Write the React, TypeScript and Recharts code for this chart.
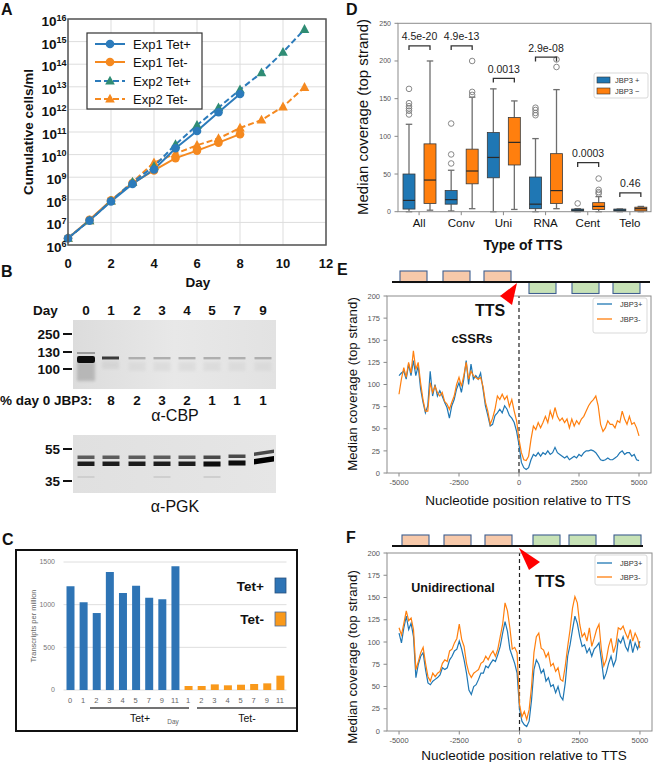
import React from 'react';
import { LineChart, Line, XAxis, YAxis, CartesianGrid, BarChart, Bar, Cell, ReferenceLine } from 'recharts';

const FONT = '"Liberation Sans", Arial, Helvetica, sans-serif';

/* ---------------- Panel A : growth curves ---------------- */
const growthDays = [0, 1, 2, 3, 4, 5, 6, 7, 8, 9, 10, 11];
const exp1TetPlus = [2e6, 1.2e7, 8.5e7, 5e8, 2.2e9, 1.9e10, 1.1e11, 7.5e11, 4.8e12];
const exp1TetMinus = [2e6, 1.3e7, 9.5e7, 5.5e8, 2e9, 7e9, 1.5e10, 3.4e10, 8e10];
const exp2TetPlus = [2e6, 1.2e7, 9e7, 6e8, 3e9, 2.8e10, 2e11, 1.2e12, 7.5e12, 4.2e13, 3.4e14, 3.5e15];
const exp2TetMinus = [2e6, 1.2e7, 9e7, 6e8, 4.4e9, 1.1e10, 2.6e10, 5.2e10, 1.5e11, 3.4e11, 1.3e12, 9.5e12];
const growthSeries = ['Exp1 Tet+', 'Exp1 Tet-', 'Exp2 Tet+', 'Exp2 Tet-'];
const logTicks = [1e6, 1e7, 1e8, 1e9, 1e10, 1e11, 1e12, 1e13, 1e14, 1e15, 1e16];
const dayTicks = [0, 2, 4, 6, 8, 10, 12];

/* ---------------- Panel B : blot labels ---------------- */
const blotLanes = ['0', '1', '2', '3', '4', '5', '7', '9'];
const jbp3Percent = ['8', '2', '3', '2', '1', '1', '1'];
const cbpMarkers = ['250', '130', '100'];
const pgkMarkers = ['55', '35'];

/* ---------------- Panel C : transcripts ---------------- */
const tetPlusDays = ['0', '1', '2', '3', '4', '5', '7', '9', '11'];
const tetPlusTPM = [1215, 1027, 902, 1383, 1137, 1223, 1082, 1063, 1449];
const tetMinusDays = ['1', '2', '3', '4', '5', '7', '9', '11'];
const tetMinusTPM = [47, 47, 66, 55, 62, 70, 78, 168];
const tpmTicks = [0, 500, 1000, 1500];

/* ---------------- Panel D : box plots ---------------- */
const ttsTypes = ['All', 'Conv', 'Uni', 'RNA', 'Cent', 'Telo'];
const boxPlus = [
  { lo: 0, q1: 3.5, med: 15, q3: 50, hi: 116, out: [163, 144, 140, 137, 134, 129] },
  { lo: 1, q1: 10, med: 16, q3: 28, hi: 55, out: [117, 76, 64] },
  { lo: 0, q1: 45, med: 72, q3: 105, hi: 163, out: [] },
  { lo: 0, q1: 4, med: 10, q3: 46, hi: 97, out: [138, 135, 131, 128] },
  { lo: 0, q1: 0.5, med: 2, q3: 3.5, hi: 4, out: [11] },
  { lo: 0, q1: 0.5, med: 2, q3: 3.5, hi: 3.6, out: [] },
];
const boxMinus = [
  { lo: 2, q1: 11, med: 42, q3: 90, hi: 200, out: [] },
  { lo: 4, q1: 37, med: 54, q3: 83, hi: 152, out: [200, 159, 155] },
  { lo: 3, q1: 62, med: 92, q3: 125, hi: 147, out: [] },
  { lo: 4, q1: 11, med: 28, q3: 77, hi: 162, out: [202, 192] },
  { lo: 0, q1: 3, med: 7, q3: 12, hi: 20, out: [44, 29, 26, 24] },
  { lo: 0, q1: 1, med: 4, q3: 6, hi: 7, out: [] },
];
const pLabels = ['4.5e-20', '4.9e-13', '0.0013', '2.9e-08', '0.0003', '0.46'];
const pBracketAt = [220, 220, 177, 205, 65, 25];
const coverageTicks = [0, 50, 100, 150, 200, 250];

/* ---------------- Panels E / F : metaplots ---------------- */
const positionTicks = [-5000, -2500, 0, 2500, 5000];
const metaTicks = [0, 25, 50, 75, 100, 125, 150, 175, 200];
const positions = Array.from({ length: 101 }, (_, i) => -5000 + i * 100);
const cssrPlus = [
  110, 113, 115, 106, 123, 110, 127, 110, 121, 95,
  80, 68, 76, 115, 87, 100, 87, 93, 87, 80,
  74, 62, 76, 83, 95, 102, 91, 106, 127, 100,
  123, 106, 110, 106, 113, 95, 76, 65, 53, 55,
  65, 68, 72, 68, 76, 72, 65, 62, 57, 47,
  32,
  12, 6, 4, 6, 15, 21, 19, 23, 19, 23,
  21, 25, 21, 23, 29, 23, 21, 19, 17, 19,
  15, 17, 19, 17, 21, 19, 23, 25, 25, 26,
  25, 23, 19, 15, 14, 15, 17, 15, 15, 17,
  19, 23, 25, 21, 23, 23, 19, 21, 15, 14,
];
const cssrMinus = [
  89, 106, 119, 108, 125, 113, 138, 117, 125, 102,
  83, 70, 70, 102, 91, 98, 91, 87, 91, 81,
  78, 72, 80, 87, 100, 108, 98, 110, 125, 106,
  115, 110, 108, 106, 108, 98, 80, 70, 55, 62,
  72, 87, 83, 89, 83, 87, 75, 83, 70, 59,
  38,
  23, 15, 14, 19, 38, 53, 49, 57, 51, 57,
  64, 57, 70, 62, 74, 64, 59, 62, 57, 61,
  51, 61, 53, 59, 55, 61, 64, 70, 76, 80,
  83, 87, 76, 55, 47, 51, 59, 55, 55, 51,
  59, 57, 70, 61, 55, 64, 55, 57, 51, 42,
];
const uniPlus = [
  110, 99, 116, 129, 114, 121, 106, 60, 75, 84,
  88, 69, 54, 52, 56, 58, 60, 63, 71, 69,
  71, 80, 84, 90, 92, 101, 92, 80, 65, 46,
  41, 50, 52, 58, 65, 65, 73, 71, 76, 80,
  78, 86, 95, 110, 123, 112, 92, 84, 76, 65,
  25,
  11, 7, 5, 11, 35, 69, 80, 75, 65, 69,
  56, 60, 50, 52, 43, 50, 39, 35, 54, 84,
  97, 114, 129, 121, 106, 95, 97, 88, 93, 84,
  92, 95, 99, 80, 58, 65, 76, 84, 73, 80,
  103, 99, 106, 95, 90, 103, 88, 99, 92, 101,
];
const uniMinus = [
  116, 108, 121, 135, 124, 127, 114, 69, 78, 88,
  94, 76, 61, 56, 65, 61, 65, 67, 76, 80,
  78, 90, 92, 99, 104, 120, 103, 95, 76, 65,
  60, 65, 67, 69, 76, 78, 84, 80, 86, 90,
  84, 92, 106, 120, 144, 135, 116, 92, 94, 88,
  30,
  16, 22, 13, 24, 50, 88, 106, 110, 93, 91,
  83, 88, 73, 76, 67, 71, 58, 56, 73, 95,
  114, 138, 151, 144, 120, 106, 110, 101, 116, 95,
  104, 114, 120, 91, 73, 80, 95, 104, 88, 97,
  116, 114, 118, 110, 104, 114, 101, 110, 104, 93,
];

/* ---------------- colours ---------------- */
const A_BLUE = '#2c7bbb';
const A_ORANGE = '#f5891f';
const A_TEAL = '#2f8c74';
const C_BLUE = '#2e74b5';
const C_ORANGE = '#f9991b';
const M_BLUE = '#1f77b4';
const M_ORANGE = '#ff7f0e';

/* ---------------- rows ---------------- */
const growthRows = growthDays.map((d, i) => ({
  day: d,
  e1p: exp1TetPlus[i],
  e1m: exp1TetMinus[i],
  e2p: exp2TetPlus[i],
  e2m: exp2TetMinus[i],
}));
const tpmRows = [
  ...tetPlusDays.map((d, i) => ({ id: 'p_' + d, tpm: tetPlusTPM[i], grp: 'plus' })),
  ...tetMinusDays.map((d, i) => ({ id: 'm_' + d, tpm: tetMinusTPM[i], grp: 'minus' })),
];
const boxRows = ttsTypes.map((c, i) => ({
  cat: c,
  plus: [boxPlus[i].lo, boxPlus[i].hi],
  minus: [boxMinus[i].lo, boxMinus[i].hi],
}));
const cssrRows = positions.map((p, i) => ({ x: p, plus: cssrPlus[i], minus: cssrMinus[i] }));
const uniRows = positions.map((p, i) => ({ x: p, plus: uniPlus[i], minus: uniMinus[i] }));

/* ---------------- Panel A ---------------- */
const LogTick = (props: any) => {
  const { x, y, payload } = props;
  const e = Math.round(Math.log10(payload.value));
  return (
    <text x={x} y={y + 7} textAnchor="end" fontFamily={FONT} fontWeight="bold" fill="#111" fontSize={13.5}>
      10<tspan dy={-5.5} fontSize={9}>{e}</tspan>
    </text>
  );
};

const circleDot = (color: string) => (p: any) => {
  if (p.cx == null || p.cy == null || p.value == null) return <g key={'c' + p.index} />;
  return <circle key={'c' + p.index} cx={p.cx} cy={p.cy} r={4.3} fill={color} />;
};
const triDot = (color: string) => (p: any) => {
  if (p.cx == null || p.cy == null || p.value == null) return <g key={'t' + p.index} />;
  const { cx, cy } = p;
  return <path key={'t' + p.index} d={`M${cx},${cy - 5.2} L${cx + 4.8},${cy + 3.6} L${cx - 4.8},${cy + 3.6} Z`} fill={color} />;
};

const PanelA = () => (
  <LineChart width={340} height={290} data={growthRows} margin={{ top: 19, right: 14, left: 0, bottom: 0 }}>
    <CartesianGrid stroke="#dddddd" strokeWidth={1} />
    <XAxis dataKey="day" type="number" domain={[0, 12]} ticks={dayTicks} interval={0} height={45} tickSize={0} tickMargin={14}
      axisLine={false} tickLine={false} tick={{ fontSize: 13, fontWeight: 'bold', fill: '#111', fontFamily: FONT }} />
    <YAxis type="number" scale="log" domain={[1e6, 1e16]} ticks={logTicks} interval={0} allowDataOverflow width={68}
      tickSize={0} tickMargin={1.5} axisLine={false} tickLine={false} tick={<LogTick />} />
    <Line dataKey="e2m" type="linear" stroke={A_ORANGE} strokeWidth={2} strokeDasharray="6 3" dot={triDot(A_ORANGE)} activeDot={false} isAnimationActive={false} />
    <Line dataKey="e1m" type="linear" stroke={A_ORANGE} strokeWidth={2} dot={circleDot(A_ORANGE)} activeDot={false} isAnimationActive={false} />
    <Line dataKey="e2p" type="linear" stroke={A_BLUE} strokeWidth={2} strokeDasharray="6 3" dot={triDot(A_TEAL)} activeDot={false} isAnimationActive={false} />
    <Line dataKey="e1p" type="linear" stroke={A_BLUE} strokeWidth={2} dot={circleDot(A_BLUE)} activeDot={false} isAnimationActive={false} />
  </LineChart>
);

/* ---------------- Panel C ---------------- */
const PanelC = () => (
  <BarChart width={281} height={181} data={tpmRows} margin={{ top: 12, right: 10.5, left: 0, bottom: 0 }}>
    <CartesianGrid stroke="#dedede" vertical={false} />
    <XAxis dataKey="id" height={41} tickSize={0} tickMargin={7.7} axisLine={false} tickLine={false} interval={0}
      tickFormatter={(v: string) => v.split('_')[1]} tick={{ fontSize: 7.5, fill: '#666', fontFamily: FONT }} />
    <YAxis type="number" domain={[0, 1500]} ticks={tpmTicks} interval={0} width={47.5} tickSize={0} tickMargin={8.5}
      axisLine={false} tickLine={false} tick={{ fontSize: 7, fill: '#777', fontFamily: FONT }} />
    <Bar dataKey="tpm" barSize={8} isAnimationActive={false}>
      {tpmRows.map((r, i) => (
        <Cell key={i} fill={r.grp === 'plus' ? C_BLUE : C_ORANGE} />
      ))}
    </Bar>
  </BarChart>
);

/* ---------------- Panel D ---------------- */
const BAR_GAP = 9;
const makeBoxShape = (stats: any[], color: string, withBracket: boolean) => (props: any) => {
  const { x, y, width, height, payload } = props;
  if (x == null || !payload) return <g />;
  const idx = ttsTypes.indexOf(payload.cat);
  const s = stats[idx];
  const top = Math.min(y, y + height);
  const h = Math.abs(height);
  const k = h / (s.hi - s.lo);
  const py = (v: number) => top + h - (v - s.lo) * k;
  const cx = x + width / 2;
  const cap = 6.5;
  const wc = '#6e6e6e';
  const boxTop = py(s.q3);
  const boxH = Math.max(py(s.q1) - py(s.q3), 1);
  let bracket = null;
  if (withBracket) {
    const bx1 = cx - (width + BAR_GAP);
    const by = py(pBracketAt[idx]);
    bracket = (
      <g>
        <path d={`M${bx1},${by + 4.2} L${bx1},${by} L${cx},${by} L${cx},${by + 4.2}`} fill="none" stroke="#333" strokeWidth={1.3} />
        <text x={(bx1 + cx) / 2} y={by - 5.5} textAnchor="middle" fontSize={10.5} fill="#222" fontFamily={FONT}>{pLabels[idx]}</text>
      </g>
    );
  }
  return (
    <g>
      <line x1={cx} x2={cx} y1={py(s.hi)} y2={boxTop} stroke={wc} strokeWidth={1.3} />
      <line x1={cx} x2={cx} y1={boxTop + boxH} y2={py(s.lo)} stroke={wc} strokeWidth={1.3} />
      <line x1={cx - cap / 2} x2={cx + cap / 2} y1={py(s.hi)} y2={py(s.hi)} stroke={wc} strokeWidth={1.3} />
      <line x1={cx - cap / 2} x2={cx + cap / 2} y1={py(s.lo)} y2={py(s.lo)} stroke={wc} strokeWidth={1.3} />
      <rect x={x} y={boxTop} width={width} height={boxH} fill={color} stroke="#3a3a3a" strokeWidth={0.8} />
      <line x1={x} x2={x + width} y1={py(s.med)} y2={py(s.med)} stroke="#2a2a2a" strokeWidth={1.2} />
      {s.out.map((o: number, i: number) => (
        <circle key={i} cx={cx} cy={py(o)} r={2.8} fill="none" stroke="#7a7a7a" strokeWidth={0.9} />
      ))}
      {bracket}
    </g>
  );
};
const plusShape = makeBoxShape(boxPlus, M_BLUE, false);
const minusShape = makeBoxShape(boxMinus, M_ORANGE, true);

const PanelD = () => (
  <BarChart width={324} height={260} data={boxRows} margin={{ top: 23.3, right: 3, left: 0, bottom: 0 }} barGap={BAR_GAP}>
    <XAxis dataKey="cat" height={48.3} tickSize={3.5} tickMargin={4} axisLine={false} tickLine={{ stroke: '#888' }} interval={0}
      tick={{ fontSize: 11.5, fill: '#111', fontFamily: FONT }} />
    <YAxis type="number" domain={[0, 250]} ticks={coverageTicks} interval={0} width={68} tickSize={3.5} tickMargin={3.5}
      axisLine={false} tickLine={{ stroke: '#888' }} tick={{ fontSize: 7, fill: '#555', fontFamily: FONT }} />
    <Bar dataKey="plus" barSize={12} isAnimationActive={false} shape={plusShape} />
    <Bar dataKey="minus" barSize={12} isAnimationActive={false} shape={minusShape} />
  </BarChart>
);

/* ---------------- Panels E / F ---------------- */
const MetaChart = ({ rows, height, xAxisH, right }: any) => (
  <LineChart width={324} height={height} data={rows} margin={{ top: 6, right, left: 0, bottom: 0 }}>
    <XAxis dataKey="x" type="number" domain={[-5500, 5500]} ticks={positionTicks} interval={0} height={xAxisH} tickSize={3.5} tickMargin={3}
      axisLine={false} tickLine={{ stroke: '#888' }} tick={{ fontSize: 7.5, fill: '#555', fontFamily: FONT }} />
    <YAxis type="number" domain={[0, 200]} ticks={metaTicks} interval={0} width={57} tickSize={3.5} tickMargin={3.5}
      axisLine={false} tickLine={{ stroke: '#888' }} tick={{ fontSize: 7.5, fill: '#555', fontFamily: FONT }} />
    <ReferenceLine x={0} stroke="#222" strokeWidth={1.2} strokeDasharray="4 3" />
    <Line dataKey="plus" type="linear" stroke={M_BLUE} strokeWidth={1.2} dot={false} activeDot={false} isAnimationActive={false} />
    <Line dataKey="minus" type="linear" stroke={M_ORANGE} strokeWidth={1.2} dot={false} activeDot={false} isAnimationActive={false} />
  </LineChart>
);

/* ---------------- overlay (titles, blots, diagrams) ---------------- */
const laneX = [86, 111, 137, 162, 187, 212, 237, 263];
const T = (p: any) => <text fontFamily={FONT} dominantBaseline="central" fill="#111" {...p} />;

const GeneDiagram = ({ lineY, top, greenTop, lineX2, orangeX, greenX, h }: any) => (
  <g>
    {orangeX.map((x: number, i: number) => (
      <rect key={'o' + i} x={x} y={top} width={27} height={h} fill="#f7c9aa" stroke="#3f5f90" strokeWidth={1.1} />
    ))}
    {greenX.map((x: number, i: number) => (
      <rect key={'g' + i} x={x} y={greenTop} width={27} height={h} fill="#c7e2b6" stroke="#3f5f90" strokeWidth={1.1} />
    ))}
    <line x1={392} x2={lineX2} y1={lineY} y2={lineY} stroke="#111" strokeWidth={2} />
  </g>
);

const MetaLegend = ({ x, y, w, h, y1, y2 }: any) => (
  <g>
    <rect x={x} y={y} width={w} height={h} rx={2} fill="#fff" stroke="#cfcfcf" strokeWidth={0.8} />
    <line x1={597} x2={612} y1={y1} y2={y1} stroke={M_BLUE} strokeWidth={1.3} />
    <line x1={597} x2={612} y1={y2} y2={y2} stroke={M_ORANGE} strokeWidth={1.3} />
    <T x={620} y={y1} fontSize={7.5} fill="#333">JBP3+</T>
    <T x={620} y={y2} fontSize={7.5} fill="#333">JBP3-</T>
  </g>
);

const Overlay = () => (
  <svg width={654} height={762} style={{ position: 'absolute', left: 0, top: 0, pointerEvents: 'none' }}>
    <defs>
      <linearGradient id="blotTop" x1="0" y1="0" x2="1" y2="0">
        <stop offset="0" stopColor="#dcdcdc" />
        <stop offset="0.5" stopColor="#e8e8e8" />
        <stop offset="1" stopColor="#e2e2e2" />
      </linearGradient>
      <linearGradient id="blotBot" x1="0" y1="0" x2="1" y2="0">
        <stop offset="0" stopColor="#e0e0e0" />
        <stop offset="1" stopColor="#e6e6e6" />
      </linearGradient>
      <filter id="b1" x="-20%" y="-100%" width="140%" height="300%"><feGaussianBlur stdDeviation="0.7" /></filter>
      <filter id="b2" x="-20%" y="-50%" width="140%" height="200%"><feGaussianBlur stdDeviation="1.6" /></filter>
    </defs>

    {/* panel letters */}
    <T x={1} y={9.5} fontSize={16} fontWeight="bold">A</T>
    <T x={1} y={271.5} fontSize={16} fontWeight="bold">B</T>
    <T x={2} y={539.5} fontSize={16} fontWeight="bold">C</T>
    <T x={346} y={9.5} fontSize={16} fontWeight="bold">D</T>
    <T x={337} y={269.5} fontSize={16} fontWeight="bold">E</T>
    <T x={346} y={537.5} fontSize={16} fontWeight="bold">F</T>

    {/* ---- A ---- */}
    <rect x={68} y={19} width={258} height={226} fill="none" stroke="#555" strokeWidth={1.5} />
    <T x={28} y={132} fontSize={13.5} fontWeight="bold" textAnchor="middle" transform="rotate(-90 28 132)">Cumulative cells/ml</T>
    <T x={198} y={282} fontSize={13.5} fontWeight="bold" textAnchor="middle">Day</T>
    <rect x={87} y={33} width={115} height={76} fill="#fff" stroke="#333" strokeWidth={1.2} />
    {growthSeries.map((s, i) => {
      const yy = [44, 62, 81, 99][i];
      const col = i % 2 === 0 ? A_BLUE : A_ORANGE;
      const mcol = i === 2 ? A_TEAL : col;
      return (
        <g key={s}>
          <line x1={95} x2={125} y1={yy} y2={yy} stroke={col} strokeWidth={2} strokeDasharray={i >= 2 ? '6 3' : undefined} />
          {i < 2 ? <circle cx={110} cy={yy} r={4.3} fill={mcol} /> :
            <path d={`M110,${yy - 5.2} L114.8,${yy + 3.6} L105.2,${yy + 3.6} Z`} fill={mcol} />}
          <T x={133} y={yy} fontSize={13}>{s}</T>
        </g>
      );
    })}

    {/* ---- B ---- */}
    <T x={33} y={310} fontSize={13.5} fontWeight="bold">Day</T>
    {blotLanes.map((l, i) => (
      <T key={l} x={laneX[i]} y={310} fontSize={13.5} fontWeight="bold" textAnchor="middle">{l}</T>
    ))}
    <rect x={73} y={320} width={203} height={69} fill="url(#blotTop)" />
    <rect x={77} y={362} width={18} height={19} fill="#8a8a8a" opacity={0.45} filter="url(#b2)" />
    <rect x={77} y={352} width={18} height={2} fill="#9a9a9a" filter="url(#b1)" />
    <rect x={77} y={356} width={18} height={7} rx={2} fill="#0b0b0b" filter="url(#b1)" />
    <rect x={102} y={356.5} width={17} height={3} fill="#383838" filter="url(#b1)" />
    <rect x={102} y={361} width={17} height={8} fill="#cdcdcd" opacity={0.6} filter="url(#b2)" />
    {laneX.slice(2).map((lx, i) => (
      <g key={'cb' + i}>
        <rect x={lx - 8.5} y={357} width={17} height={2.4} fill="#aeaeae" filter="url(#b1)" />
        <rect x={lx - 8.5} y={362} width={17} height={9} fill="#d3d3d3" opacity={0.5} filter="url(#b2)" />
      </g>
    ))}
    {cbpMarkers.map((m, i) => {
      const yy = [334, 352, 369][i];
      return (
        <g key={m}>
          <T x={60} y={yy} fontSize={13.5} fontWeight="bold" textAnchor="end">{m}</T>
          <line x1={63} x2={72} y1={yy} y2={yy} stroke="#111" strokeWidth={2} />
        </g>
      );
    })}
    <T x={0} y={400} fontSize={13.5} fontWeight="bold">% day 0 JBP3:</T>
    {jbp3Percent.map((p, i) => (
      <T key={'pc' + i} x={laneX[i + 1]} y={400} fontSize={13.5} fontWeight="bold" textAnchor="middle">{p}</T>
    ))}
    <T x={175} y={415} fontSize={16} textAnchor="middle">α-CBP</T>

    <rect x={73} y={435} width={203} height={58} fill="url(#blotBot)" />
    {laneX.map((lx, i) => {
      if (i === 7) {
        return (
          <g key={'pg' + i} filter="url(#b1)">
            <path d={`M${lx - 9},${452.5} L${lx + 11},${449.5} L${lx + 11},${453} L${lx - 9},${456} Z`} fill="#4a4a4a" />
            <path d={`M${lx - 9},${459} L${lx + 11},${456} L${lx + 11},${461.5} L${lx - 9},${464.5} Z`} fill="#050505" />
          </g>
        );
      }
      const up = i === 6 ? 454.5 : 455.5;
      const lo = i === 6 ? 460.5 : 461.5;
      return (
        <g key={'pg' + i} filter="url(#b1)">
          <rect x={lx - 8.5} y={up} width={17} height={3.5} fill={i >= 5 ? '#4a4a4a' : '#5c5c5c'} />
          <rect x={lx - 8.5} y={lo} width={17} height={i >= 5 ? 5 : 4.5} fill={i >= 5 ? '#0c0c0c' : '#1e1e1e'} />
          {(i === 0 || i === 3 || i === 5) && <rect x={lx - 8.5} y={476} width={17} height={2} fill="#cfcfcf" />}
        </g>
      );
    })}
    {pgkMarkers.map((m, i) => {
      const yy = [449, 481][i];
      return (
        <g key={m}>
          <T x={60} y={yy} fontSize={13.5} fontWeight="bold" textAnchor="end">{m}</T>
          <line x1={63} x2={72} y1={yy} y2={yy} stroke="#111" strokeWidth={2} />
        </g>
      );
    })}
    <T x={175} y={506} fontSize={16} textAnchor="middle">α-PGK</T>

    {/* ---- C ---- */}
    <rect x={16} y={550} width={281} height={181} fill="none" stroke="#111" strokeWidth={2} />
    <T x={33} y={626} fontSize={7.5} fill="#666" textAnchor="middle" transform="rotate(-90 33 626)">Transcripts per million</T>
    <line x1={90} x2={189} y1={708} y2={708} stroke="#444" strokeWidth={1.5} />
    <line x1={197} x2={296} y1={708} y2={708} stroke="#444" strokeWidth={1.5} />
    <T x={140} y={717.5} fontSize={10.5} textAnchor="middle">Tet+</T>
    <T x={173} y={721} fontSize={6.5} fill="#666" textAnchor="middle">Day</T>
    <T x={247} y={717.5} fontSize={10.5} textAnchor="middle">Tet-</T>
    <T x={264} y={586} fontSize={13.5} fontWeight="bold" textAnchor="end">Tet+</T>
    <rect x={275} y={578} width={11} height={15} fill={C_BLUE} stroke="#2a527e" strokeWidth={0.8} />
    <T x={264} y={619} fontSize={13.5} fontWeight="bold" textAnchor="end">Tet-</T>
    <rect x={275} y={612} width={11} height={14} fill={C_ORANGE} stroke="#4a6da0" strokeWidth={0.8} />

    {/* ---- D ---- */}
    <rect x={398} y={23.3} width={253} height={188.4} fill="none" stroke="#8c8c8c" strokeWidth={1} />
    <T x={362} y={117} fontSize={15} textAnchor="middle" transform="rotate(-90 362 117)">Median coverage (top strand)</T>
    <T x={523} y={245} fontSize={14} fontWeight="bold" textAnchor="middle">Type of TTS</T>
    <rect x={594} y={73} width={54} height={25} rx={2} fill="#fff" stroke="#cfcfcf" strokeWidth={0.8} />
    <rect x={597} y={77} width={13} height={6} fill={M_BLUE} stroke="#333" strokeWidth={0.6} />
    <rect x={597} y={88} width={13} height={6} fill={M_ORANGE} stroke="#333" strokeWidth={0.6} />
    <T x={615} y={80} fontSize={7.5} fill="#333">JBP3 +</T>
    <T x={615} y={91} fontSize={7.5} fill="#333">JBP3 −</T>

    {/* ---- E ---- */}
    <rect x={387} y={296} width={264} height={177} fill="none" stroke="#8c8c8c" strokeWidth={1} />
    <GeneDiagram lineY={282} top={271} greenTop={282} lineX2={650} h={11.5}
      orangeX={[400, 443, 484]} greenX={[529, 572, 613]} />
    <polygon points="517,283 500,296 512,305" fill="#ff0000" />
    <T x={490} y={310} fontSize={16} fontWeight="bold" textAnchor="middle">TTS</T>
    <T x={472} y={338} fontSize={13} fontWeight="bold" textAnchor="middle">cSSRs</T>
    <MetaLegend x={593} y={298} w={54} h={35} y1={304} y2={319} />
    <T x={352.5} y={384} fontSize={13.3} textAnchor="middle" transform="rotate(-90 352.5 384)">Median coverage (top strand)</T>
    <T x={528} y={500} fontSize={13.5} textAnchor="middle">Nucleotide position relative to TTS</T>

    {/* ---- F ---- */}
    <rect x={387} y={553} width={265} height={178} fill="none" stroke="#8c8c8c" strokeWidth={1} />
    <GeneDiagram lineY={546} top={535} greenTop={535} lineX2={643} h={11}
      orangeX={[402, 444, 485]} greenX={[533, 569, 614]} />
    <polygon points="519,548 540,562 529,570" fill="#ff0000" />
    <T x={550} y={581} fontSize={16} fontWeight="bold" textAnchor="middle">TTS</T>
    <T x={453} y={588} fontSize={12.5} fontWeight="bold" textAnchor="middle">Unidirectional</T>
    <MetaLegend x={595} y={555} w={52} h={30} y1={563} y2={577} />
    <T x={352} y={657} fontSize={13.3} textAnchor="middle" transform="rotate(-90 352 657)">Median coverage (top strand)</T>
    <T x={524} y={755} fontSize={13.5} textAnchor="middle">Nucleotide position relative to TTS</T>
  </svg>
);

export default function App() {
  return (
    <div style={{ position: 'absolute', left: 0, top: 0, width: 654, height: 762, background: '#fff', overflow: 'hidden', fontFamily: FONT }}>
      <div style={{ position: 'absolute', left: 0, top: 0 }}><PanelA /></div>
      <div style={{ position: 'absolute', left: 16, top: 550 }}><PanelC /></div>
      <div style={{ position: 'absolute', left: 330, top: 0 }}><PanelD /></div>
      <div style={{ position: 'absolute', left: 330, top: 290 }}><MetaChart rows={cssrRows} height={225} xAxisH={42} right={3} /></div>
      <div style={{ position: 'absolute', left: 330, top: 547 }}><MetaChart rows={uniRows} height={215} xAxisH={31} right={2} /></div>
      <Overlay />
    </div>
  );
}
